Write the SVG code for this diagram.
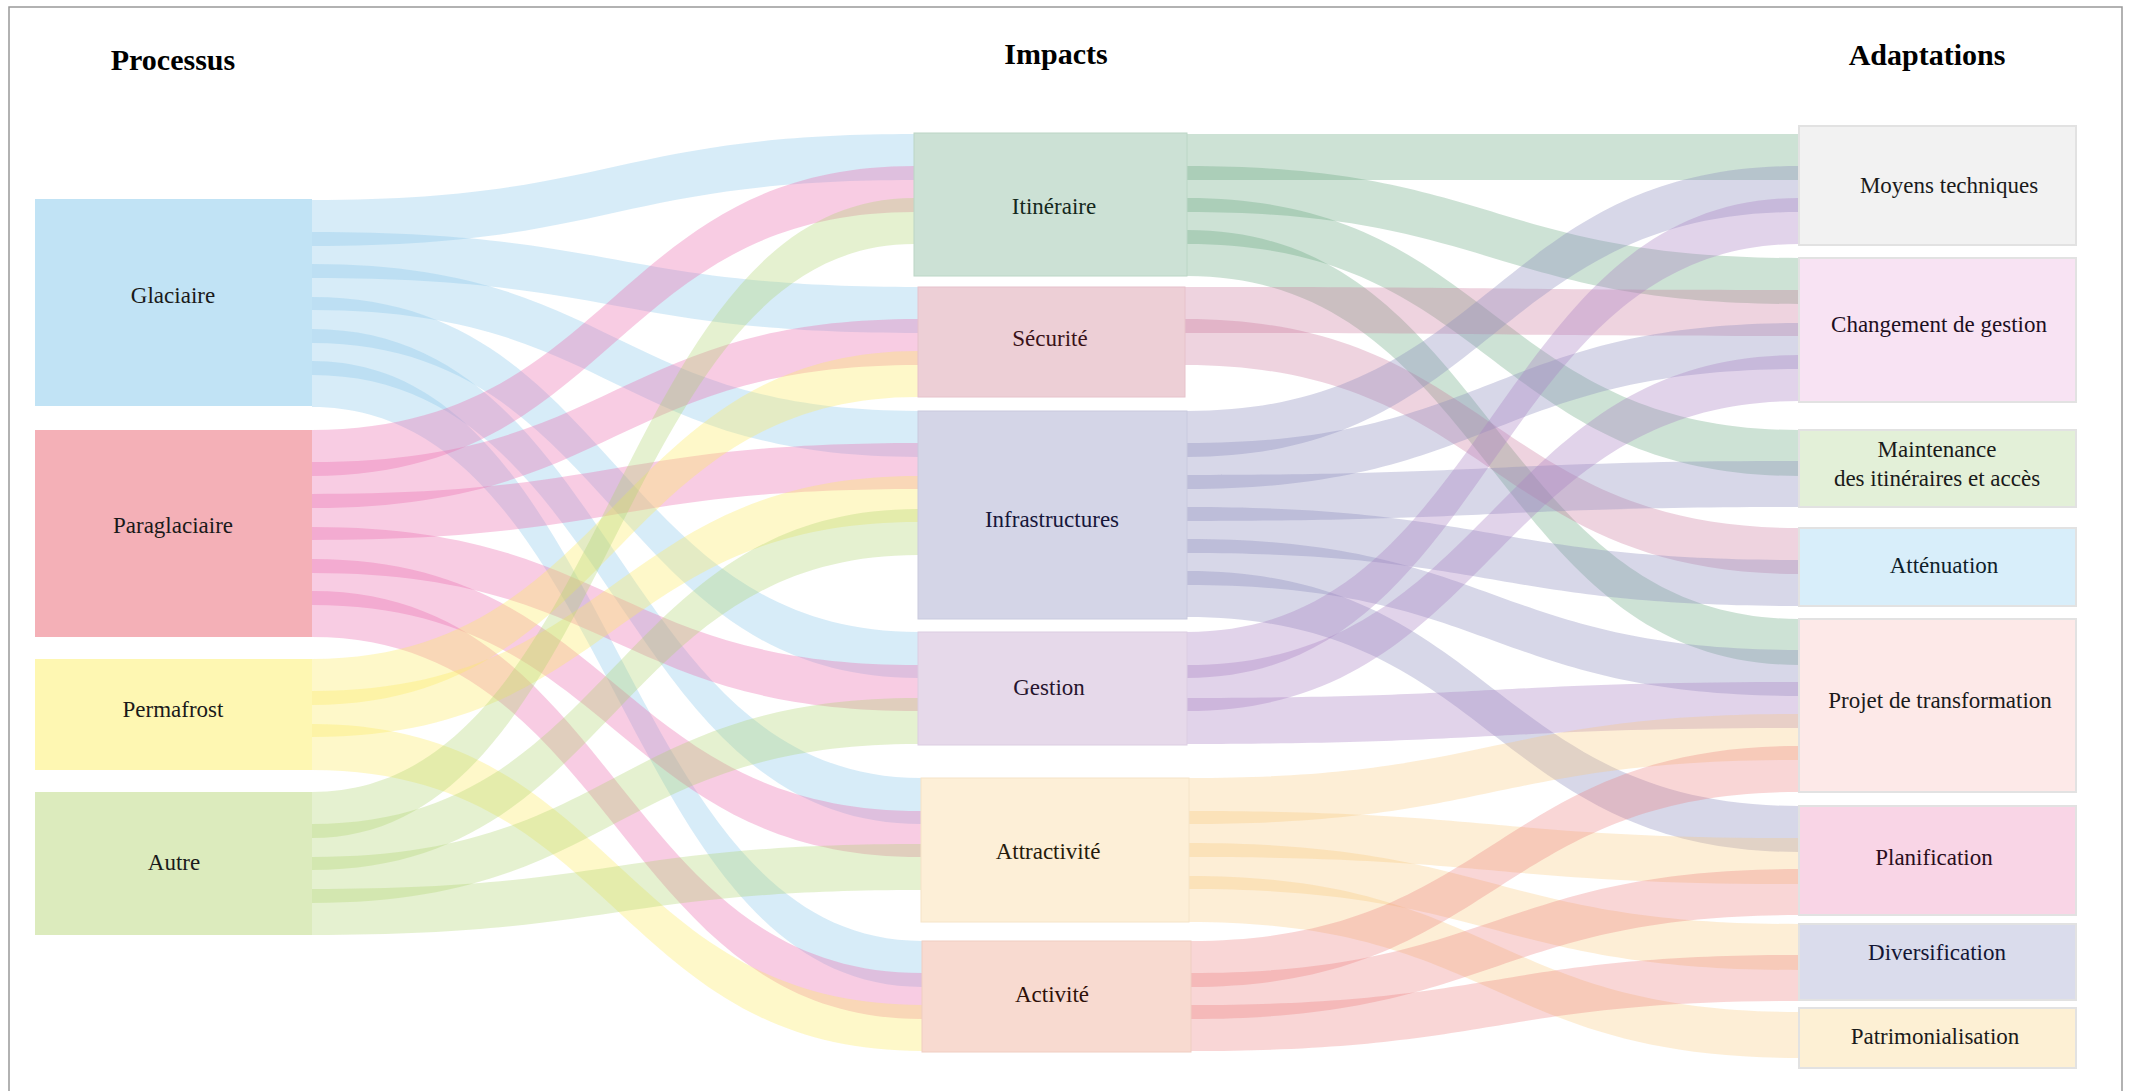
<svg xmlns="http://www.w3.org/2000/svg" width="2132" height="1091" viewBox="0 0 2132 1091">
<style>
.t{font-family:"Liberation Serif","Times New Roman",serif;font-size:23px;text-anchor:middle;fill:#1a1a1a}
.h{font-family:"Liberation Serif","Times New Roman",serif;font-size:30px;font-weight:bold;text-anchor:middle;fill:#000}
.fg{fill:rgb(140,200,235);fill-opacity:0.35}
.fp{fill:rgb(235,110,175);fill-opacity:0.35}
.fy{fill:rgb(252,236,100);fill-opacity:0.35}
.fa{fill:rgb(175,210,110);fill-opacity:0.32}
.fi{fill:rgb(100,165,125);fill-opacity:0.32}
.fs{fill:rgb(200,110,150);fill-opacity:0.3}
.ff{fill:rgb(140,140,190);fill-opacity:0.35}
.fe{fill:rgb(170,130,195);fill-opacity:0.35}
.ft{fill:rgb(250,200,120);fill-opacity:0.3}
.fc{fill:rgb(235,120,120);fill-opacity:0.3}
.rn{stroke:#e2e2e2;stroke-width:2}
</style>
<rect width="2132" height="1091" fill="#fff"/>
<path d="M9,1091 V7 H2122 V1091" fill="none" stroke="#999" stroke-width="1.5"/>
<text class="h" x="173" y="70">Processus</text>
<text class="h" x="1056" y="64">Impacts</text>
<text class="h" x="1927" y="65">Adaptations</text>
<g id="connectors">
<path class="fg" d="M312,200 C613,200 613,134 914,134 L914,180 C613,180 613,246 312,246 Z"/>
<path class="fg" d="M312,232 C615,232 615,287 918,287 L918,333 C615,333 615,278 312,278 Z"/>
<path class="fg" d="M312,264 C615,264 615,411 918,411 L918,457 C615,457 615,310 312,310 Z"/>
<path class="fg" d="M312,297 C615,297 615,632 918,632 L918,678 C615,678 615,343 312,343 Z"/>
<path class="fg" d="M312,329 C616,329 616,778 921,778 L921,824 C616,824 616,375 312,375 Z"/>
<path class="fg" d="M312,361 C617,361 617,941 922,941 L922,987 C617,987 617,407 312,407 Z"/>
<path class="fp" d="M312,430 C613,430 613,166 914,166 L914,212 C613,212 613,476 312,476 Z"/>
<path class="fp" d="M312,462 C615,462 615,319 918,319 L918,365 C615,365 615,508 312,508 Z"/>
<path class="fp" d="M312,494 C615,494 615,443 918,443 L918,489 C615,489 615,540 312,540 Z"/>
<path class="fp" d="M312,527 C615,527 615,665 918,665 L918,711 C615,711 615,573 312,573 Z"/>
<path class="fp" d="M312,559 C616,559 616,811 921,811 L921,857 C616,857 616,605 312,605 Z"/>
<path class="fp" d="M312,591 C617,591 617,973 922,973 L922,1019 C617,1019 617,637 312,637 Z"/>
<path class="fy" d="M312,659 C615,659 615,351 918,351 L918,397 C615,397 615,705 312,705 Z"/>
<path class="fy" d="M312,691 C615,691 615,476 918,476 L918,522 C615,522 615,737 312,737 Z"/>
<path class="fy" d="M312,724 C617,724 617,1005 922,1005 L922,1051 C617,1051 617,770 312,770 Z"/>
<path class="fa" d="M312,792 C613,792 613,198 914,198 L914,244 C613,244 613,838 312,838 Z"/>
<path class="fa" d="M312,824 C615,824 615,509 918,509 L918,555 C615,555 615,870 312,870 Z"/>
<path class="fa" d="M312,857 C615,857 615,698 918,698 L918,744 C615,744 615,903 312,903 Z"/>
<path class="fa" d="M312,889 C616,889 616,844 921,844 L921,890 C616,890 616,935 312,935 Z"/>
<path class="fi" d="M1187,134 C1493,134 1493,134 1799,134 L1799,180 C1493,180 1493,180 1187,180 Z"/>
<path class="fi" d="M1187,166 C1493,166 1493,258 1799,258 L1799,304 C1493,304 1493,212 1187,212 Z"/>
<path class="fi" d="M1187,198 C1493,198 1493,430 1799,430 L1799,476 C1493,476 1493,244 1187,244 Z"/>
<path class="fi" d="M1187,230 C1493,230 1493,619 1799,619 L1799,665 C1493,665 1493,276 1187,276 Z"/>
<path class="fs" d="M1185,287 C1492,287 1492,290 1799,290 L1799,336 C1492,336 1492,333 1185,333 Z"/>
<path class="fs" d="M1185,319 C1492,319 1492,528 1799,528 L1799,574 C1492,574 1492,365 1185,365 Z"/>
<path class="ff" d="M1187,411 C1493,411 1493,166 1799,166 L1799,212 C1493,212 1493,457 1187,457 Z"/>
<path class="ff" d="M1187,443 C1493,443 1493,323 1799,323 L1799,369 C1493,369 1493,489 1187,489 Z"/>
<path class="ff" d="M1187,475 C1493,475 1493,461 1799,461 L1799,507 C1493,507 1493,521 1187,521 Z"/>
<path class="ff" d="M1187,507 C1493,507 1493,560 1799,560 L1799,606 C1493,606 1493,553 1187,553 Z"/>
<path class="ff" d="M1187,539 C1493,539 1493,650 1799,650 L1799,696 C1493,696 1493,585 1187,585 Z"/>
<path class="ff" d="M1187,571 C1493,571 1493,806 1799,806 L1799,852 C1493,852 1493,617 1187,617 Z"/>
<path class="fe" d="M1187,632 C1493,632 1493,198 1799,198 L1799,244 C1493,244 1493,678 1187,678 Z"/>
<path class="fe" d="M1187,665 C1493,665 1493,355 1799,355 L1799,401 C1493,401 1493,711 1187,711 Z"/>
<path class="fe" d="M1187,698 C1493,698 1493,682 1799,682 L1799,728 C1493,728 1493,744 1187,744 Z"/>
<path class="ft" d="M1189,778 C1494,778 1494,714 1799,714 L1799,760 C1494,760 1494,824 1189,824 Z"/>
<path class="ft" d="M1189,811 C1494,811 1494,838 1799,838 L1799,884 C1494,884 1494,857 1189,857 Z"/>
<path class="ft" d="M1189,843 C1494,843 1494,924 1799,924 L1799,970 C1494,970 1494,889 1189,889 Z"/>
<path class="ft" d="M1189,876 C1494,876 1494,1012 1799,1012 L1799,1058 C1494,1058 1494,922 1189,922 Z"/>
<path class="fc" d="M1191,941 C1495,941 1495,746 1799,746 L1799,792 C1495,792 1495,987 1191,987 Z"/>
<path class="fc" d="M1191,973 C1495,973 1495,869 1799,869 L1799,915 C1495,915 1495,1019 1191,1019 Z"/>
<path class="fc" d="M1191,1005 C1495,1005 1495,955 1799,955 L1799,1001 C1495,1001 1495,1051 1191,1051 Z"/>
</g>
<g id="glaciaire"><rect x="35" y="199" width="277" height="207" fill="#c1e3f5"/><text class="t" x="173" y="303" fill="#0e1f2a">Glaciaire</text></g>
<g id="paraglaciaire"><rect x="35" y="430" width="277" height="207" fill="#f4b0b7"/><text class="t" x="173" y="533">Paraglaciaire</text></g>
<g id="permafrost"><rect x="35" y="659" width="277" height="111" fill="#fef7b2"/><text class="t" x="173" y="717">Permafrost</text></g>
<g id="autre"><rect x="35" y="792" width="277" height="143" fill="#dcebbd"/><text class="t" x="174" y="870">Autre</text></g>
<g id="itineraire"><rect x="914" y="133" width="273" height="143" fill="#cce1d5" stroke="#bcd6c6" stroke-width="1"/><text class="t" x="1054" y="214" style="fill:#14281c">Itinéraire</text></g>
<g id="securite"><rect x="918" y="287" width="267" height="110" fill="#edcfd6" stroke="#e6c2cb" stroke-width="1"/><text class="t" x="1050" y="346" style="fill:#3a1218">Sécurité</text></g>
<g id="infrastructures"><rect x="918" y="411" width="269" height="208" fill="#d4d5e7" stroke="#c9cade" stroke-width="1"/><text class="t" x="1052" y="527" style="fill:#16163a">Infrastructures</text></g>
<g id="gestion"><rect x="918" y="632" width="269" height="113" fill="#e6d9ea" stroke="#dccde2" stroke-width="1"/><text class="t" x="1049" y="695" style="fill:#26142e">Gestion</text></g>
<g id="attractivite"><rect x="921" y="778" width="268" height="144" fill="#fdefd7" stroke="#f5e4c8" stroke-width="1"/><text class="t" x="1048" y="859" style="fill:#261a0a">Attractivité</text></g>
<g id="activite"><rect x="922" y="941" width="269" height="111" fill="#f8dad0" stroke="#f0cec2" stroke-width="1"/><text class="t" x="1052" y="1002" style="fill:#2e1008">Activité</text></g>
<g id="moyens-techniques"><rect class="rn" x="1799" y="126" width="277" height="119" fill="#f2f2f2"/><text class="t" x="1949" y="193">Moyens techniques</text></g>
<g id="changement-de-gestion"><rect class="rn" x="1799" y="258" width="277" height="144" fill="#f8e3f3"/><text class="t" x="1939" y="332" style="fill:#1e0f1e">Changement de gestion</text></g>
<g id="maintenance"><rect class="rn" x="1799" y="430" width="277" height="77" fill="#e3f0d8"/><text class="t" x="1937" y="457">Maintenance</text><text class="t" x="1937" y="486">des itinéraires et accès</text></g>
<g id="attenuation"><rect class="rn" x="1799" y="528" width="277" height="78" fill="#d8eefa"/><text class="t" x="1944" y="573" style="fill:#0f1e2a">Atténuation</text></g>
<g id="projet-de-transformation"><rect class="rn" x="1799" y="619" width="277" height="173" fill="#fde9e8"/><text class="t" x="1940" y="708">Projet de transformation</text></g>
<g id="planification"><rect class="rn" x="1799" y="806" width="277" height="109" fill="#f9d5e6"/><text class="t" x="1934" y="865" style="fill:#2a0e1c">Planification</text></g>
<g id="diversification"><rect class="rn" x="1799" y="924" width="277" height="76" fill="#dadcec"/><text class="t" x="1937" y="960" style="fill:#141634">Diversification</text></g>
<g id="patrimonialisation"><rect class="rn" x="1799" y="1008" width="277" height="60" fill="#fdf0d4"/><text class="t" x="1935" y="1044">Patrimonialisation</text></g>
</svg>
